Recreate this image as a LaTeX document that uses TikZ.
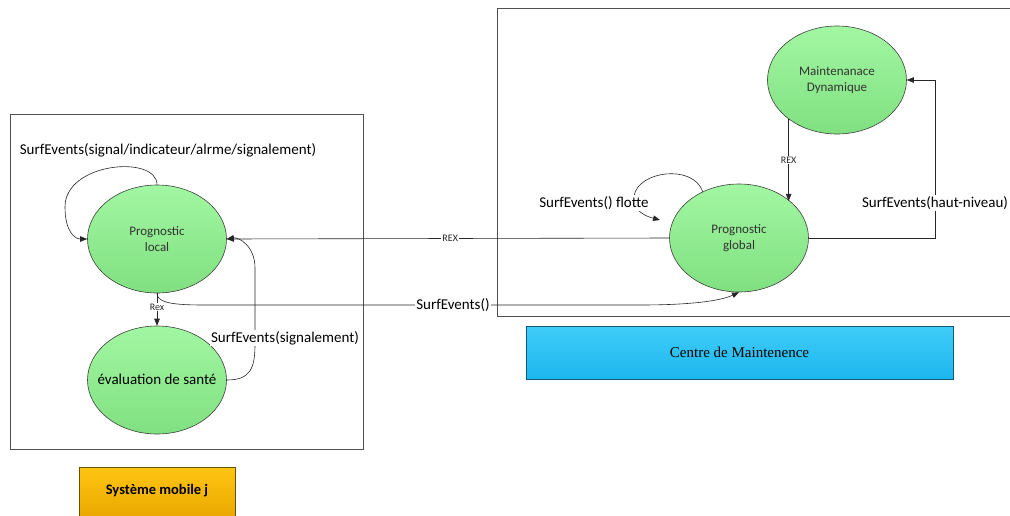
\documentclass[tikz,border=0pt]{standalone}
\usepackage{fontspec}
\setmainfont{Carlito}
\newfontfamily\serifcm{Liberation Serif}
\usetikzlibrary{shapes.geometric,arrows.meta,calc}
\definecolor{gtop}{HTML}{A2F7A2}
\definecolor{gbot}{HTML}{80E080}
\definecolor{btop}{HTML}{40CDF8}
\definecolor{bbot}{HTML}{1CB6EE}
\definecolor{otop}{HTML}{FFC512}
\definecolor{obot}{HTML}{E9A700}
\definecolor{frame}{HTML}{505050}
\tikzset{
  state/.style={ellipse, draw=black!75, line width=0.6pt, top color=gtop, bottom color=gbot,
    minimum width=139pt, minimum height=108pt, inner sep=0pt, align=center,
    font=\fontsize{13}{16}\selectfont, text=black!80},
  arr/.style={-{Triangle[length=7pt,width=5.5pt]}, line width=0.6pt, black!85},
  ln/.style={line width=0.6pt, black!85},
  lab/.style={fill=white, inner sep=1pt, font=\fontsize{15}{17}\selectfont},
  small/.style={fill=white, inner sep=1pt, font=\fontsize{10}{12}\selectfont},
  frm/.style={draw=frame, line width=0.8pt}
}
\begin{document}
\begin{tikzpicture}[x=1pt,y=-1pt]
\useasboundingbox (0,0) rectangle (1010,515);
% frames
\draw[frm] (10,114) rectangle (363,449);
\draw[frm] (1012,8) -- (497,8) -- (497,316) -- (1012,316);
% label boxes
\node[draw=black!60!otop, line width=0.6pt, top color=otop, bottom color=obot, minimum width=156pt, minimum height=52pt, inner sep=0pt, anchor=north west] (sys) at (79,467) {};
\node[font=\bfseries\fontsize{14.5}{16}\selectfont] (systxt) at (157,491) {Système mobile j};
\node[draw=black!50!bbot, line width=0.6pt, top color=btop, bottom color=bbot, minimum width=427pt, minimum height=53pt, inner sep=0pt, font=\serifcm\fontsize{15}{17}\selectfont] (centre) at (739.5,352.5) {Centre de Maintenence};
% states
\node[state] (local) at (157,239) {Prognostic\\local};
\node[state] (eval) at (157,380) {};
\node[font=\fontsize{15}{17}\selectfont] (evaltxt) at (157,379) {évaluation de santé};
\node[state] (maint) at (837,80) {Maintenanace\\Dynamique};
\node[state] (global) at (739,238) {Prognostic\\global};
% self loop local
\draw[arr] (local.north) .. controls +(0,-30) and +(0,-45) .. (65,207) .. controls +(0,25) and +(-12,0) .. (local.west);
\node[lab, fill=none] (l1) at (168,150) {SurfEvents(signal/indicateur/alrme/signalement)};
% REX global -> local
\draw[arr] (global.west) -- (local.east) node[small, pos=0.495] (rex1) {REX};
% SurfEvents() local -> global
\draw[arr] (local.south) .. controls +(0,10) and +(-30,0) .. (205,305) -- (640,305) .. controls +(60,0) and +(-15,7) .. (global.south);
\node[lab] (l2) at (453,305) {SurfEvents()};
% Rex local -> eval
\draw[arr] (local.south) -- (eval.north) node[small, pos=0.42] (rex2) {Rex};
% eval -> local
\draw[arr] (eval.east) .. controls +(22,0) and +(0,25) .. (255,345) -- (255,268) .. controls +(0,-22) and +(12,-2) .. (local.east);
\node[lab] (l3) at (285,338) {SurfEvents(signalement)};
% maint -> global
\draw[arr] (maint.219) -- (maint.219 |- global.36.5) node[small, midway] (rex3) {REX};
% global -> maint
\draw[arr] (global.east) -- (935,238) -- (935,80) -- (maint.east);
\node[lab] (l4) at (935,203) {SurfEvents(haut-niveau)};
% self loop global
\coordinate (gl) at (660,220);
\draw[arr] (global.128) .. controls +(-10,-28) and +(4,-25) .. (634,196) .. controls +(-1,15) and +(-15,-4) .. (gl);
\node[lab] (l5) at (594,203) {SurfEvents() flotte};
\end{tikzpicture}
\end{document}
